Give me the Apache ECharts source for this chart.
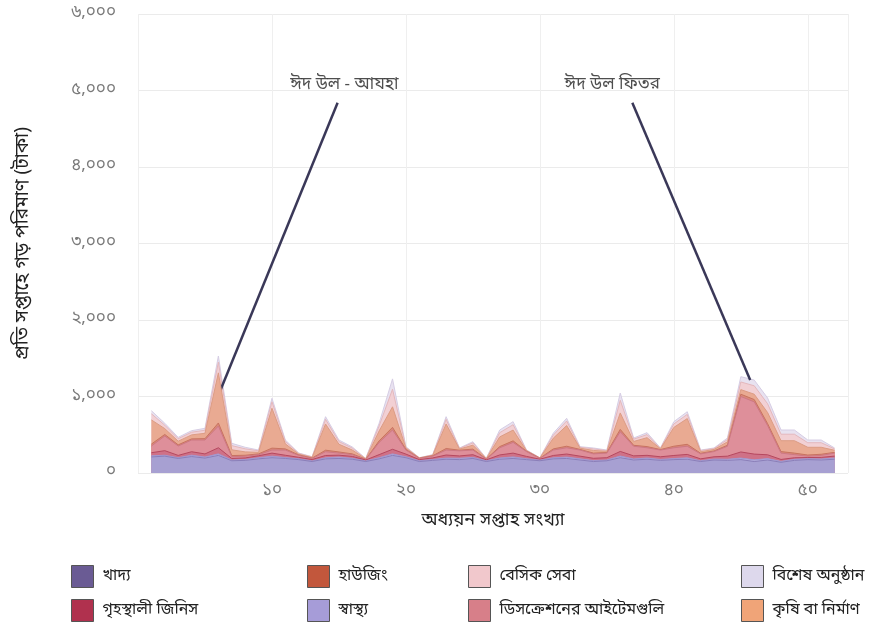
<!DOCTYPE html>
<html><head><meta charset="utf-8">
<script src="https://cdn.jsdelivr.net/npm/echarts@6/dist/echarts.min.js"></script>
<style>html,body{margin:0;padding:0;background:#fff}#c{width:894px;height:633px}</style>
</head><body><div id="c"></div>
<script>
const weeks = [1,2,3,4,5,6,7,8,9,10,11,12,13,14,15,16,17,18,19,20,21,22,23,24,25,26,27,28,29,30,31,32,33,34,35,36,37,38,39,40,41,42,43,44,45,46,47,48,49,50,51,52];
const food          = [210,220,190,215,195,230,160,165,185,200,190,175,150,185,190,180,150,185,230,200,150,165,180,175,190,150,180,190,175,160,185,190,170,150,160,200,170,180,165,175,180,150,170,165,175,150,170,140,165,175,170,180];
const health        = [15,12,10,18,14,20,10,12,15,20,12,10,8,14,18,12,8,15,20,12,10,12,15,18,14,10,16,20,12,8,14,18,15,12,10,22,14,16,12,14,18,10,12,15,20,22,18,12,14,12,14,16];
const household     = [40,60,30,45,40,80,20,20,25,40,30,20,18,30,25,25,12,40,60,35,15,20,40,30,35,12,40,50,30,12,30,40,35,30,30,60,40,35,35,40,45,25,30,40,80,75,50,25,20,15,20,25];
const discretionary = [88,192,123,153,182,284,23,23,15,40,68,25,14,49,27,23,5,160,252,53,15,23,65,67,61,8,94,140,63,10,71,82,80,58,60,258,126,99,88,101,107,65,68,130,725,683,382,83,41,18,26,39];
const housing       = [25,20,15,15,18,40,15,12,10,25,15,6,5,20,15,10,4,20,35,8,3,5,20,8,12,3,15,20,5,3,15,20,8,10,8,30,12,15,6,20,25,8,8,12,30,30,25,20,20,15,15,10];
const agriculture   = [316,76,48,52,70,655,75,44,20,521,66,10,8,343,101,50,5,130,268,16,3,6,321,15,52,4,127,141,6,3,140,270,16,35,15,215,50,117,10,246,336,20,20,45,60,70,145,142,162,101,91,27];
const basicService  = [80,45,32,35,40,140,55,40,20,85,32,10,6,60,35,25,4,65,230,12,2,5,60,9,30,3,55,70,6,2,40,60,12,20,10,165,30,40,7,45,55,14,12,30,100,110,115,85,85,60,60,18];
const specialEvent  = [40,25,18,20,25,80,30,20,10,45,18,5,4,35,20,15,2,35,135,8,2,3,35,5,15,2,35,40,3,2,25,35,8,12,7,95,15,25,4,30,35,8,7,20,69,75,75,55,55,35,35,12];

// stacking order, bottom to top
const seriesNames = ['খাদ্য','স্বাস্থ্য','গৃহস্থালী জিনিস','ডিসক্রেশনের আইটেমগুলি','হাউজিং','কৃষি বা নির্মাণ','বেসিক সেবা','বিশেষ অনুষ্ঠান'];
const seriesValues = [food, health, household, discretionary, housing, agriculture, basicService, specialEvent];

const yTickValues = [0,1000,2000,3000,4000,5000,6000];
const yTickLabels = ['০','১,০০০','২,০০০','৩,০০০','৪,০০০','৫,০০০','৬,০০০'];
const xTickValues = [10,20,30,40,50];
const xTickLabels = ['১০','২০','৩০','৪০','৫০'];

const annotationLabels = ['ঈদ উল - আযহা','ঈদ উল ফিতর'];
const annotationTextAt = [[15.4,5060],[35.4,5060]];
const annotationLineFrom = [[14.9,4840],[36.9,4840]];
const annotationLineTo = [[6.1,1060],[45.7,1215]];

const FONT = "'Noto Sans Bengali','Noto Sans',sans-serif";
const legendColors = {
 'খাদ্য':'#6a5b94','হাউজিং':'#c2573c','বেসিক সেবা':'#f1c8cc','বিশেষ অনুষ্ঠান':'#ddd8ec',
 'গৃহস্থালী জিনিস':'#b0314e','স্বাস্থ্য':'#a69cd8','ডিসক্রেশনের আইটেমগুলি':'#d77f89','কৃষি বা নির্মাণ':'#f0a478'
};
const bandColors = {
 'খাদ্য':'#a7a0d2','স্বাস্থ্য':'#b5aedd','গৃহস্থালী জিনিস':'#cf7187','ডিসক্রেশনের আইটেমগুলি':'#de8f9a',
 'হাউজিং':'#da8a78','কৃষি বা নির্মাণ':'#e9aa92','বেসিক সেবা':'#f2d0d4','বিশেষ অনুষ্ঠান':'#e8e2f0'
};
const edgeColors = {
 'খাদ্য':'#8a7eb8','স্বাস্থ্য':'#a298d0','গৃহস্থালী জিনিস':'#b6485f','ডিসক্রেশনের আইটেমগুলি':'#cd7884',
 'হাউজিং':'#c87360','কৃষি বা নির্মাণ':'#dc9c84','বেসিক সেবা':'#e4b8bd','বিশেষ অনুষ্ঠান':'#d6cde4'
};

// cumulative tops (stack) — each layer filled down to zero, higher layers drawn underneath
const running = weeks.map(()=>0);
const series = seriesNames.map((n,i)=>{
  const tops = weeks.map((w,j)=>{ running[j] += seriesValues[i][j]; return [w, running[j]]; });
  return {
    name:n, type:'line', symbol:'none', smooth:false, data:tops,
    itemStyle:{color:legendColors[n]},
    lineStyle:{color:edgeColors[n], width:1},
    areaStyle:{color:bandColors[n], opacity:1, origin:'start'},
    emphasis:{disabled:true}, silent:true,
    z:2
  };
});
series.forEach((s,i)=>{ s.z = 2 + (series.length - i); });

series.push({
  name:'annLines', type:'line', data:[], symbol:'none', z:20,
  markLine:{ silent:true, symbol:'none', label:{show:false},
    lineStyle:{color:'#3a3858', width:2.5, type:'solid'},
    data: annotationLineFrom.map((f,i)=>[{coord:f},{coord:annotationLineTo[i]}]) }
});
series.push({
  name:'annText', type:'scatter', symbolSize:0, z:21, silent:true,
  data: annotationLabels.map((t,i)=>({value:annotationTextAt[i], name:t})),
  label:{show:true, position:'inside', formatter:p=>p.name, color:'#222', fontSize:17, fontFamily:FONT}
});

const legendCols = [
  {left:66, names:['খাদ্য','গৃহস্থালী জিনিস']},
  {left:302, names:['হাউজিং','স্বাস্থ্য']},
  {left:463, names:['বেসিক সেবা','ডিসক্রেশনের আইটেমগুলি']},
  {left:736, names:['বিশেষ অনুষ্ঠান','কৃষি বা নির্মাণ']}
];
const legends = legendCols.map(c=>({
  left:c.left, top:560, orient:'vertical', itemWidth:22, itemHeight:22, itemGap:11,
  icon:'rect', selectedMode:false,
  textStyle:{fontSize:16, color:'#222', fontFamily:FONT, padding:[0,0,0,4]},
  data:c.names.map(n=>({name:n, itemStyle:{color:legendColors[n], borderColor:'#555', borderWidth:1}}))
}));

const chart = echarts.init(document.getElementById('c'), null, {renderer:'canvas'});
chart.setOption({
  animation:false,
  backgroundColor:'#fff',
  grid:{left:138, right:46, top:14, bottom:160, containLabel:false},
  legend:legends,
  xAxis:{type:'value', min:0, max:53, interval:10,
    name:'অধ্যয়ন সপ্তাহ সংখ্যা', nameLocation:'middle', nameGap:40,
    nameTextStyle:{fontSize:18, color:'#222', fontFamily:FONT},
    axisLine:{show:false}, axisTick:{show:false},
    axisLabel:{fontSize:17, color:'#7a7a7a', fontFamily:FONT, margin:10,
      formatter:v=>{const k=xTickValues.indexOf(v); return k>=0?xTickLabels[k]:'';}},
    splitLine:{show:true, lineStyle:{color:'#efefef', width:1}}
  },
  yAxis:{type:'value', min:0, max:6000, interval:1000,
    name:'প্রতি সপ্তাহে গড় পরিমাণ (টাকা)', nameLocation:'middle', nameGap:104, nameRotate:90,
    nameTextStyle:{fontSize:19, color:'#222', fontFamily:FONT},
    axisLine:{show:false}, axisTick:{show:false},
    axisLabel:{fontSize:17, color:'#7a7a7a', fontFamily:FONT, margin:22,
      formatter:v=>{const k=yTickValues.indexOf(v); return k>=0?yTickLabels[k]:'';}},
    splitLine:{show:true, lineStyle:{color:'#ebebeb', width:1}}
  },
  series:series
});
</script></body></html>
